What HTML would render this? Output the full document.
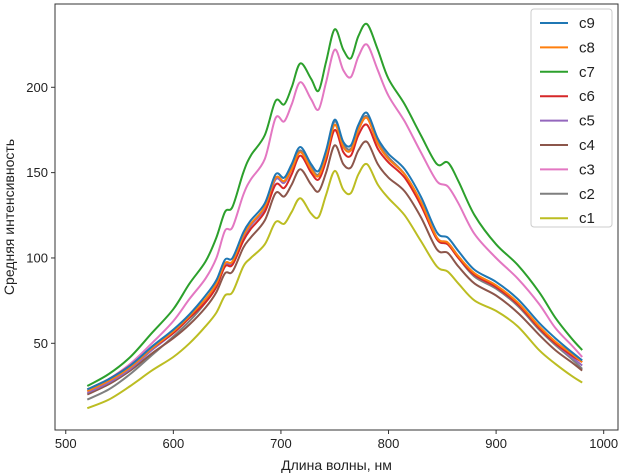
<!DOCTYPE html>
<html><head><meta charset="utf-8"><style>
body{margin:0;background:#fff;}
svg{display:block;font-family:"Liberation Sans","DejaVu Sans",sans-serif;}
</style></head><body>
<svg id="chart" width="633" height="475">
<g id="plot"></g>
<g id="axes"></g>
<g id="legend"></g>
</svg>
<script>
const wavelengths=[520,540,560,580,600,615,630,640,648,655,665,672,685,695,703,710,718,728,735,742,750,758,765,772,780,790,800,815,830,845,855,865,880,900,920,940,955,970,980];
const c9=[23,29,37,48,58,67,78,87,99,100,115,122,132,149,147,155,165,155,151,163,181,168,166,178,185,170,161,152,136,115,112,104,93,86,76,62,53,45,40];
const c8=[22,28,36,47,57,66,76,85,97,98,113,120,130,147,145,152,162,152,148,160,178,165,163,175,182,167,158,149,133,112,109,101,91,84,74,60,51,44,39];
const c7=[25,32,42,56,70,85,98,112,127,130,150,160,172,192,190,200,214,205,198,215,234,222,217,230,237,222,205,190,172,155,156,145,125,108,96,80,65,53,46];
const c6=[23,29,37,47,56,65,74,83,95,96,110,117,127,143,141,149,160,150,146,157,175,162,160,172,178,164,156,147,131,111,108,100,90,83,73,59,50,43,39];
const c5=[21,27,35,46,56,65,75,84,96,97,112,119,129,146,144,152,162,152,148,160,178,165,163,175,182,167,158,149,133,112,109,101,90,83,73,59,50,42,37];
const c4=[20,26,34,44,53,61,71,80,91,92,106,112,122,138,136,143,152,143,139,150,166,155,153,163,168,155,147,139,124,105,103,95,85,78,68,55,46,39,34];
const c3=[22,29,38,50,63,76,88,100,116,118,137,146,158,182,180,190,203,193,187,203,222,210,206,218,225,210,195,180,162,145,142,132,114,100,88,73,59,49,42];
const c2=[17,23,32,43,54,63,74,84,96,97,112,119,130,147,145,153,163,153,149,161,180,167,164,176,183,168,159,149,132,111,108,100,89,82,72,58,49,41,35];
const c1=[12,17,25,34,42,50,60,68,78,80,95,100,108,121,120,127,135,126,124,137,151,140,138,149,155,143,135,125,110,95,92,85,75,69,60,46,38,31,27];
const seriesNames=["c1","c2","c3","c4","c5","c6","c7","c8","c9"];
const seriesData=[c1,c2,c3,c4,c5,c6,c7,c8,c9];
const seriesColors=["#bcbd22","#7f7f7f","#e377c2","#8c564b","#9467bd","#d62728","#2ca02c","#ff7f0e","#1f77b4"];
const xTicks=[500,600,700,800,900,1000];
const yTicks=[50,100,150,200];

const L=55,R=618,T=4,B=430;
const xMin=490,xMax=1013.3,yMin=-0.8,yMax=248.8;
const sx=v=>L+(v-xMin)/(xMax-xMin)*(R-L);
const sy=v=>B-(v-yMin)/(yMax-yMin)*(B-T);
const NS="http://www.w3.org/2000/svg";
function mk(tag,attrs,parent){const e=document.createElementNS(NS,tag);for(const k in attrs)e.setAttribute(k,attrs[k]);parent.appendChild(e);return e;}
function smooth(pts){let d="M"+pts[0][0].toFixed(1)+","+pts[0][1].toFixed(1);
 for(let i=0;i<pts.length-1;i++){const p0=pts[i-1]||pts[i],p1=pts[i],p2=pts[i+1],p3=pts[i+2]||p2;
  const c1x=p1[0]+(p2[0]-p0[0])/6,c1y=p1[1]+(p2[1]-p0[1])/6,c2x=p2[0]-(p3[0]-p1[0])/6,c2y=p2[1]-(p3[1]-p1[1])/6;
  d+=" C"+c1x.toFixed(1)+","+c1y.toFixed(1)+" "+c2x.toFixed(1)+","+c2y.toFixed(1)+" "+p2[0].toFixed(1)+","+p2[1].toFixed(1);}
 return d;}
const plot=document.getElementById('plot'),axes=document.getElementById('axes'),legend=document.getElementById('legend');
seriesData.forEach((s,i)=>{
 const pts=s.map((v,j)=>[sx(wavelengths[j]),sy(v)]);
 const p=mk('path',{d:smooth(pts),fill:'none',stroke:seriesColors[i],'stroke-width':2},plot);
 
 
});
const frame=mk('rect',{x:L,y:T,width:R-L,height:B-T,fill:'none',stroke:'#333','stroke-width':1},axes);


xTicks.forEach(t=>{const x=sx(t);
 const tk=mk('line',{x1:x,x2:x,y1:B,y2:B+4,stroke:'#333'},axes);
 
 
 const tx=mk('text',{x:x,y:B+18,'text-anchor':'middle','font-size':13,fill:'#222'},axes);tx.textContent=t;
 
 
});
yTicks.forEach(t=>{const y=sy(t);
 const tk=mk('line',{x1:L-4,x2:L,y1:y,y2:y,stroke:'#333'},axes);
 
 
 const tx=mk('text',{x:L-7,y:y+4.5,'text-anchor':'end','font-size':13,fill:'#222'},axes);tx.textContent=t;
 
 
});
const xl=mk('text',{x:(L+R)/2,y:470,'text-anchor':'middle','font-size':14,fill:'#222'},axes);xl.textContent="Длина волны, нм";


const yl=mk('text',{x:0,y:0,'text-anchor':'middle','font-size':14,fill:'#222',transform:'translate(14,'+((T+B)/2)+') rotate(-90)'},axes);yl.textContent="Средняя интенсивность";


const lb=mk('rect',{x:531,y:9,width:81,height:218,rx:3,fill:'#fff',stroke:'#ccc'},legend);


for(let k=0;k<9;k++){const i=8-k;const y=23+k*24.4;
 const g=mk('g',{},legend);
 
 
 mk('line',{x1:540,x2:568,y1:y,y2:y,stroke:seriesColors[i],'stroke-width':2},g);
 const t=mk('text',{x:579,y:y+5,'font-size':15,fill:'#222'},g);t.textContent=seriesNames[i];
}
</script>
</body></html>
